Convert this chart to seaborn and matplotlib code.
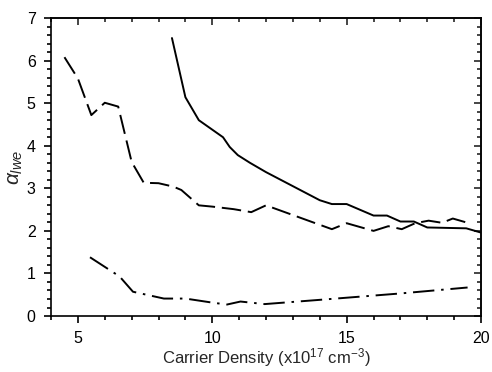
import numpy as np
import pandas as pd
import seaborn as sns
import matplotlib.pyplot as plt
from matplotlib.ticker import MultipleLocator

# Values
solid_x = [8.5, 9.0, 9.5, 10.4, 10.65, 10.95, 11.4, 12.0, 13.0, 14.0, 14.45, 15.0, 16.0, 16.5, 17.0, 17.5, 18.0, 19.45, 20.0]
solid_y = [6.53, 5.14, 4.6, 4.2, 3.97, 3.78, 3.6, 3.38, 3.05, 2.72, 2.63, 2.63, 2.36, 2.36, 2.22, 2.22, 2.08, 2.06, 1.96]

dash_x = [4.5, 5.0, 5.5, 6.0, 6.5, 7.0, 7.45, 8.0, 8.55, 8.85, 9.5, 10.0, 10.8, 11.45, 12.0, 14.45, 15.0, 16.0, 16.55, 17.05, 17.55, 18.05, 18.55, 18.95, 19.5]
dash_y = [6.08, 5.58, 4.72, 5.01, 4.92, 3.62, 3.13, 3.12, 3.04, 2.96, 2.6, 2.57, 2.51, 2.44, 2.6, 2.04, 2.18, 2.0, 2.11, 2.04, 2.18, 2.24, 2.19, 2.29, 2.19]

dashdot_x = [5.45, 6.55, 7.05, 8.2, 9.0, 10.05, 10.55, 11.05, 11.95, 14.0, 16.0, 17.0, 19.5]
dashdot_y = [1.38, 0.93, 0.57, 0.41, 0.41, 0.31, 0.27, 0.34, 0.28, 0.38, 0.48, 0.53, 0.67]

sns.set_style('ticks')
plt.rcParams['font.family'] = ['Liberation Sans', 'DejaVu Sans']
plt.rcParams['mathtext.fontset'] = 'custom'
plt.rcParams['mathtext.it'] = 'Liberation Sans:italic'
plt.rcParams['mathtext.rm'] = 'Liberation Sans'

fig = plt.figure(figsize=(4.92, 3.72), dpi=100)
ax = fig.add_axes([0.1037, 0.1505, 0.874, 0.801])

sns.lineplot(x=solid_x, y=solid_y, ax=ax, color='black', linewidth=1.4, sort=False)
sns.lineplot(x=dash_x, y=dash_y, ax=ax, color='black', linewidth=1.4, sort=False)
sns.lineplot(x=dashdot_x, y=dashdot_y, ax=ax, color='black', linewidth=1.4, sort=False)
ax.lines[1].set_dashes([10, 3.5])
ax.lines[2].set_dashes([11, 3.5, 1.3, 3.5])

ax.set_xlim(4, 20)
ax.set_ylim(0, 7)
ax.xaxis.set_major_locator(MultipleLocator(5))
ax.xaxis.set_minor_locator(MultipleLocator(1))
ax.yaxis.set_major_locator(MultipleLocator(1))
ax.yaxis.set_minor_locator(MultipleLocator(0.2))

# bottom/left ticks point outwards, top/right ticks point inwards
ax.tick_params(which='both', width=1.2, colors='black')
ax.tick_params(axis='x', which='both', direction='out', top=False)
ax.tick_params(axis='y', which='both', direction='out', right=False)
ax.tick_params(which='major', length=5, labelsize=11.5)
ax.tick_params(which='minor', length=3)
ax.tick_params(axis='x', which='major', pad=6)
ax.tick_params(axis='y', which='major', pad=6)
for s in ax.spines.values():
    s.set_linewidth(1.2)
    s.set_color('black')

top = ax.secondary_xaxis('top')
top.xaxis.set_major_locator(MultipleLocator(5))
top.xaxis.set_minor_locator(MultipleLocator(1))
top.tick_params(which='both', direction='in', width=1.2, labeltop=False)
top.tick_params(which='major', length=5)
top.tick_params(which='minor', length=3)
top.spines['top'].set_linewidth(1.2)

right = ax.secondary_yaxis('right')
right.yaxis.set_major_locator(MultipleLocator(1))
right.yaxis.set_minor_locator(MultipleLocator(0.2))
right.tick_params(which='both', direction='in', width=1.2, labelright=False)
right.tick_params(which='major', length=5)
right.tick_params(which='minor', length=3)
right.spines['right'].set_linewidth(1.2)

ax.set_xlabel('Carrier Density (x10$^{17}$ cm$^{-3}$)', fontsize=12, labelpad=0)
ax.set_ylabel(r'$\alpha_{lwe}$', fontsize=15, labelpad=1)

fig.savefig('out.png', dpi=100)
